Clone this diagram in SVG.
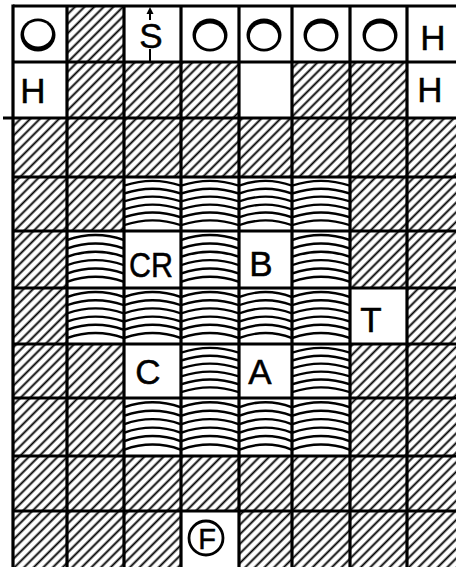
<svg xmlns="http://www.w3.org/2000/svg" xmlns:xlink="http://www.w3.org/1999/xlink" width="456" height="567" viewBox="0 0 456 567">
  <style>
    .lbl { font-family: "Liberation Sans", Arial, sans-serif; font-size: 35px; fill: #000; stroke: #000; stroke-width: 0.5; text-anchor: middle; }
    .hatch { fill: url(#hatch); }
    .grid line { stroke: #000; stroke-width: 3.2; }
    .arc { fill: none; stroke: #000; stroke-width: 2.4; }
  </style>
  <defs>
    <pattern id="hatch" patternUnits="userSpaceOnUse" width="6.8" height="10" patternTransform="rotate(45)">
      <line x1="3.4" y1="-1" x2="3.4" y2="11" stroke="#000" stroke-width="1.9"/>
    </pattern>
    <symbol id="arcs" viewBox="0 0 57 56" preserveAspectRatio="none">
      <path class="arc" d="M0,9 Q28.5,-1 57,9"/>
      <path class="arc" d="M0,17.2 Q28.5,7.2 57,17.2"/>
      <path class="arc" d="M0,25.4 Q28.5,15.4 57,25.4"/>
      <path class="arc" d="M0,33.6 Q28.5,23.6 57,33.6"/>
      <path class="arc" d="M0,41.8 Q28.5,31.8 57,41.8"/>
      <path class="arc" d="M0,50 Q28.5,40 57,50"/>
    </symbol>
    <g id="ringTop">
      <ellipse cx="0" cy="0" rx="17.5" ry="16.5" fill="#000"/>
      <ellipse cx="0" cy="1.2" rx="14" ry="12.6" fill="#fff"/>
    </g>
    <g id="ringBottom">
      <ellipse cx="0" cy="0" rx="17.5" ry="16.5" fill="#000"/>
      <ellipse cx="0" cy="-1.2" rx="14" ry="12.6" fill="#fff"/>
    </g>
  </defs>

  <rect x="0" y="0" width="456" height="567" fill="#fff"/>

  <g id="hatched">
    <rect class="hatch" x="67" y="6" width="57" height="56"/>
    <rect class="hatch" x="67" y="62" width="172" height="56"/>
    <rect class="hatch" x="292" y="62" width="115" height="56"/>
    <rect class="hatch" x="13" y="118" width="443" height="59"/>
    <rect class="hatch" x="13" y="177" width="111" height="54"/>
    <rect class="hatch" x="350" y="177" width="106" height="54"/>
    <rect class="hatch" x="13" y="231" width="54" height="57"/>
    <rect class="hatch" x="350" y="231" width="106" height="57"/>
    <rect class="hatch" x="13" y="288" width="54" height="56"/>
    <rect class="hatch" x="407" y="288" width="49" height="56"/>
    <rect class="hatch" x="13" y="344" width="111" height="54"/>
    <rect class="hatch" x="350" y="344" width="106" height="54"/>
    <rect class="hatch" x="13" y="398" width="111" height="58"/>
    <rect class="hatch" x="350" y="398" width="106" height="58"/>
    <rect class="hatch" x="13" y="456" width="443" height="55"/>
    <rect class="hatch" x="13" y="511" width="168" height="56"/>
    <rect class="hatch" x="239" y="511" width="217" height="56"/>
  </g>

  <g id="arched">
    <use xlink:href="#arcs" x="124" y="177" width="57" height="54"/>
    <use xlink:href="#arcs" x="181" y="177" width="58" height="54"/>
    <use xlink:href="#arcs" x="239" y="177" width="53" height="54"/>
    <use xlink:href="#arcs" x="292" y="177" width="58" height="54"/>
    <use xlink:href="#arcs" x="67" y="231" width="57" height="57"/>
    <use xlink:href="#arcs" x="181" y="231" width="58" height="57"/>
    <use xlink:href="#arcs" x="292" y="231" width="58" height="57"/>
    <use xlink:href="#arcs" x="67" y="288" width="57" height="56"/>
    <use xlink:href="#arcs" x="124" y="288" width="57" height="56"/>
    <use xlink:href="#arcs" x="181" y="288" width="58" height="56"/>
    <use xlink:href="#arcs" x="239" y="288" width="53" height="56"/>
    <use xlink:href="#arcs" x="292" y="288" width="58" height="56"/>
    <use xlink:href="#arcs" x="181" y="344" width="58" height="54"/>
    <use xlink:href="#arcs" x="292" y="344" width="58" height="54"/>
    <use xlink:href="#arcs" x="124" y="398" width="57" height="58"/>
    <use xlink:href="#arcs" x="181" y="398" width="58" height="58"/>
    <use xlink:href="#arcs" x="239" y="398" width="53" height="58"/>
    <use xlink:href="#arcs" x="292" y="398" width="58" height="58"/>
  </g>

  <g id="ring-1"><use xlink:href="#ringBottom" x="38" y="35"/></g>
  <g id="ring-2"><use xlink:href="#ringTop" x="210" y="35"/></g>
  <g id="ring-3"><use xlink:href="#ringTop" x="264" y="35"/></g>
  <g id="ring-4"><use xlink:href="#ringTop" x="321" y="35"/></g>
  <g id="ring-5"><use xlink:href="#ringTop" x="380" y="35"/></g>

  <g id="cell-S">
    <text class="lbl" x="151" y="48">S</text>
    <line x1="150" y1="12" x2="150" y2="20" stroke="#000" stroke-width="2"/>
    <polygon points="150,7 146.5,14 153.5,14" fill="#000"/>
    <line x1="150" y1="49" x2="150" y2="62" stroke="#000" stroke-width="2"/>
  </g>
  <g id="cell-H1"><text class="lbl" x="433" y="50">H</text></g>
  <g id="cell-H2"><text class="lbl" x="33" y="103">H</text></g>
  <g id="cell-H3"><text class="lbl" x="430" y="102">H</text></g>
  <g id="cell-CR"><text class="lbl" x="151" y="277" textLength="44" lengthAdjust="spacingAndGlyphs">CR</text></g>
  <g id="cell-B"><text class="lbl" x="261" y="276">B</text></g>
  <g id="cell-T"><text class="lbl" x="371" y="332">T</text></g>
  <g id="cell-C"><text class="lbl" x="148" y="384">C</text></g>
  <g id="cell-A"><text class="lbl" x="260" y="384">A</text></g>
  <g id="cell-F">
    <circle cx="206" cy="538" r="17" fill="none" stroke="#000" stroke-width="2.8"/>
    <text class="lbl" x="207" y="549" style="font-size:29px">F</text>
  </g>

  <g id="connectors" class="grid">
    <line x1="13" y1="6" x2="456" y2="6"/>
    <line x1="13" y1="62" x2="456" y2="62"/>
    <line x1="3" y1="118" x2="456" y2="118"/>
    <line x1="13" y1="177" x2="456" y2="177"/>
    <line x1="13" y1="231" x2="456" y2="231"/>
    <line x1="13" y1="288" x2="456" y2="288"/>
    <line x1="13" y1="344" x2="456" y2="344"/>
    <line x1="13" y1="398" x2="456" y2="398"/>
    <line x1="13" y1="456" x2="456" y2="456"/>
    <line x1="13" y1="511" x2="456" y2="511"/>
    <line x1="13" y1="4.4" x2="13" y2="567"/>
    <line x1="67" y1="6" x2="67" y2="567"/>
    <line x1="124" y1="6" x2="124" y2="567"/>
    <line x1="181" y1="6" x2="181" y2="567"/>
    <line x1="239" y1="6" x2="239" y2="567"/>
    <line x1="292" y1="6" x2="292" y2="567"/>
    <line x1="350" y1="6" x2="350" y2="567"/>
    <line x1="407" y1="6" x2="407" y2="567"/>
  </g>
</svg>
